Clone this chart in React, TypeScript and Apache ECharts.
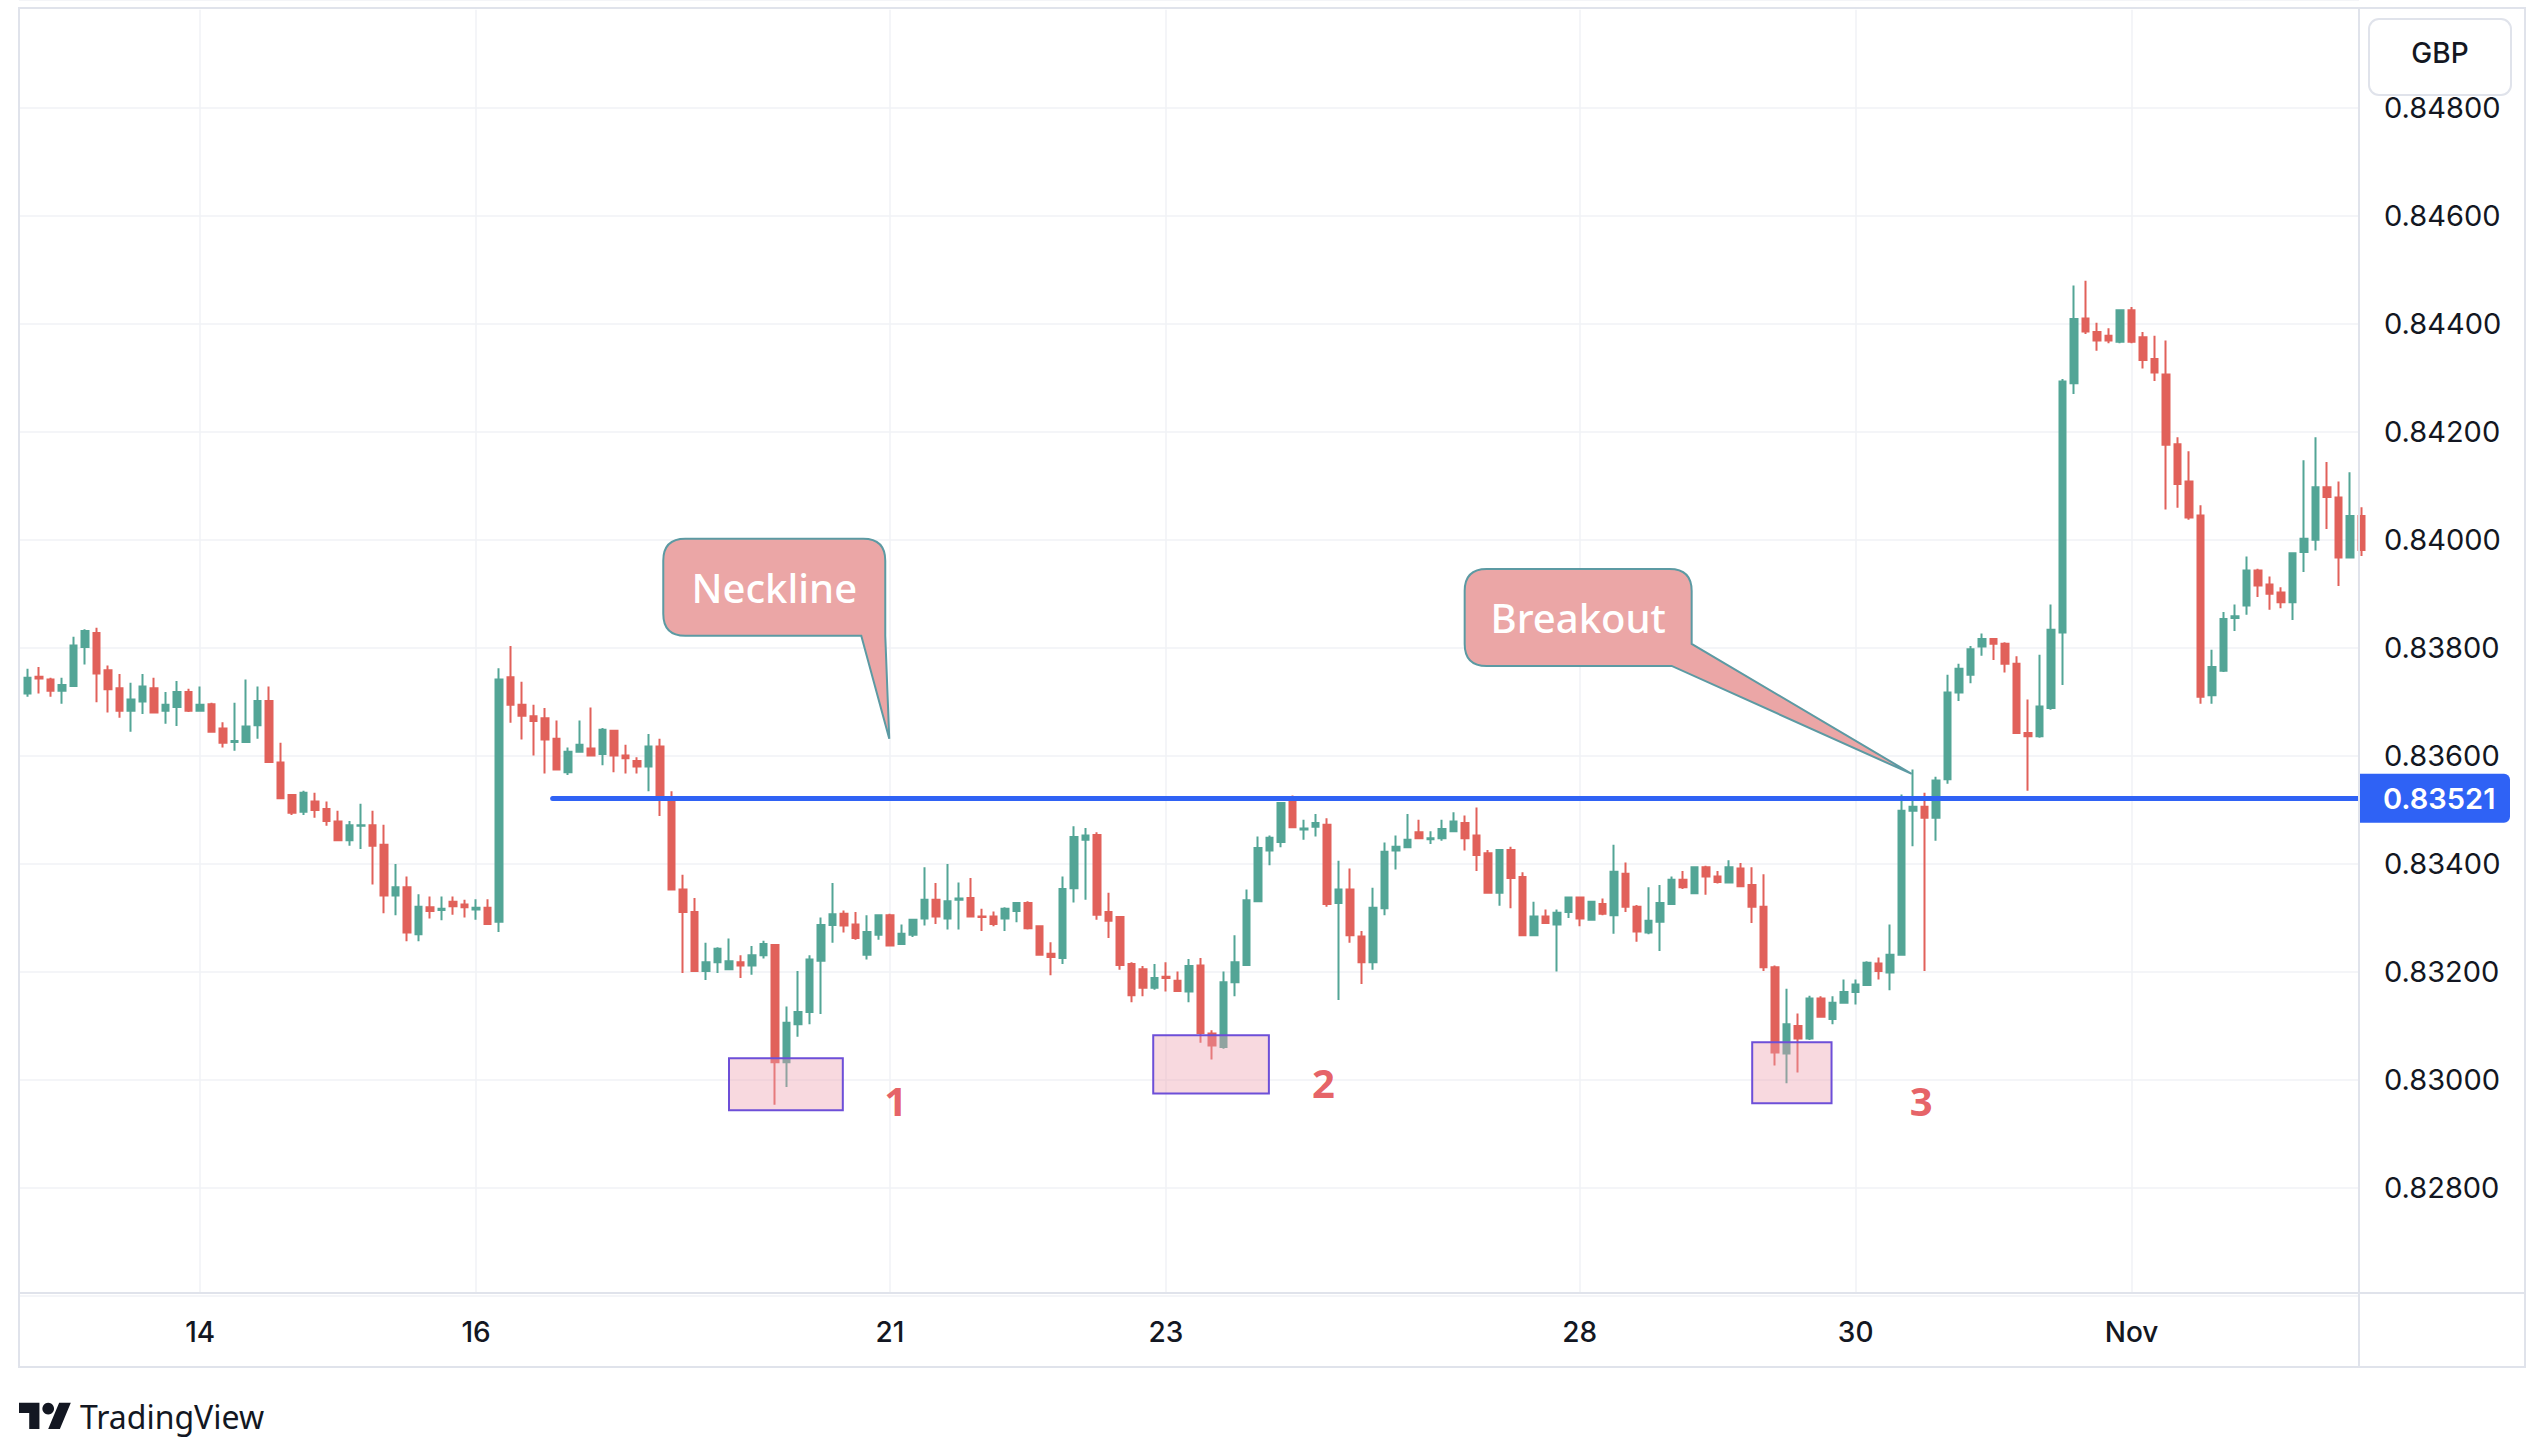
import { useEffect, useRef } from 'react';
import * as echarts from 'echarts';

const W = 2534;
const H = 1444;

// ---- Data: 2-hour EUR/GBP candles, [open, close, low, high] ----
const oct11 = [
  [0.83715, 0.83744, 0.83709, 0.83761], [0.83746, 0.83743, 0.83715, 0.83764], [0.83741, 0.8372, 0.83709, 0.83744],
  [0.8372, 0.83731, 0.83696, 0.83744], [0.83729, 0.83804, 0.83729, 0.8382], [0.83801, 0.83831, 0.83769, 0.83834],
  [0.83827, 0.83752, 0.83699, 0.83837], [0.83758, 0.83723, 0.8368, 0.83767], [0.83725, 0.83683, 0.8367, 0.83751],
  [0.83683, 0.83704, 0.83644, 0.83735], [0.837, 0.83728, 0.83677, 0.83751], [0.83725, 0.8368, 0.8368, 0.83744],
  [0.83683, 0.83694, 0.83659, 0.83718], [0.8369, 0.83718, 0.83655, 0.83738], [0.83718, 0.83683, 0.83681, 0.83724],
];
const oct14 = [
  [0.83683, 0.83694, 0.83683, 0.83728], [0.83695, 0.83644, 0.83644, 0.83698], [0.8365, 0.83624, 0.83615, 0.83662],
  [0.83625, 0.83627, 0.83609, 0.83698], [0.83625, 0.83654, 0.83625, 0.83741], [0.83656, 0.83701, 0.83631, 0.83728],
  [0.83701, 0.83588, 0.83588, 0.83728], [0.83587, 0.83521, 0.83519, 0.83624], [0.83527, 0.83494, 0.8349, 0.83527],
  [0.83496, 0.83531, 0.8349, 0.83535], [0.83515, 0.83499, 0.83485, 0.83531], [0.83501, 0.83479, 0.8347, 0.83515],
  [0.83478, 0.83443, 0.83443, 0.83498], [0.83443, 0.83471, 0.83433, 0.83479], [0.8347, 0.83471, 0.83427, 0.83511],
  [0.83471, 0.83433, 0.83361, 0.83498], [0.83435, 0.83341, 0.83308, 0.83472], [0.83341, 0.83356, 0.83304, 0.83399],
  [0.83356, 0.83272, 0.83256, 0.83376], [0.83269, 0.8332, 0.83256, 0.83343], [0.83319, 0.83312, 0.83298, 0.83339],
  [0.83314, 0.83316, 0.83295, 0.83339], [0.83329, 0.83321, 0.83305, 0.83339], [0.83324, 0.83319, 0.833, 0.83333],
];
const oct16 = [
  [0.83315, 0.83318, 0.83296, 0.83334], [0.83318, 0.83288, 0.83288, 0.83334], [0.83292, 0.83741, 0.83273, 0.83762],
  [0.83745, 0.83694, 0.83661, 0.83803], [0.83694, 0.83674, 0.8363, 0.83737], [0.83673, 0.83664, 0.836, 0.83694],
  [0.83669, 0.8363, 0.83567, 0.83688], [0.83631, 0.83574, 0.83574, 0.83665], [0.83569, 0.83607, 0.83564, 0.83615],
  [0.83607, 0.8362, 0.83607, 0.83665], [0.83613, 0.836, 0.836, 0.83689], [0.83603, 0.83648, 0.83582, 0.83651],
  [0.83646, 0.836, 0.83569, 0.83646], [0.836, 0.83595, 0.83567, 0.8362], [0.8359, 0.8358, 0.83567, 0.83597],
  [0.8358, 0.83617, 0.83534, 0.8364], [0.83617, 0.83524, 0.83488, 0.83631], [0.83522, 0.83352, 0.83352, 0.83534],
  [0.83352, 0.8331, 0.83197, 0.83379], [0.8331, 0.83201, 0.83201, 0.83336], [0.83201, 0.83217, 0.83184, 0.83253],
  [0.83217, 0.83242, 0.83197, 0.83245], [0.83204, 0.83219, 0.83204, 0.83261], [0.83217, 0.83211, 0.83188, 0.8323],
  [0.83211, 0.8323, 0.83194, 0.83247], [0.8323, 0.83251, 0.83224, 0.83257], [0.83249, 0.83032, 0.82953, 0.83251],
  [0.83032, 0.83105, 0.82986, 0.83135], [0.83102, 0.83125, 0.83079, 0.83201], [0.83125, 0.83222, 0.83102, 0.8323],
  [0.8322, 0.83286, 0.83121, 0.833], [0.83286, 0.83306, 0.83253, 0.83364], [0.83307, 0.83285, 0.83272, 0.83313],
  [0.83287, 0.83262, 0.83259, 0.8331], [0.83231, 0.83273, 0.83222, 0.83304], [0.83268, 0.83304, 0.83259, 0.83304],
];
const oct21 = [
  [0.83304, 0.83248, 0.83248, 0.83307], [0.83251, 0.8327, 0.83249, 0.83287], [0.83268, 0.83296, 0.83264, 0.83296],
  [0.83298, 0.83333, 0.83285, 0.83393], [0.83333, 0.83302, 0.83288, 0.83364], [0.83298, 0.8333, 0.83278, 0.83399],
  [0.83333, 0.83335, 0.83278, 0.83365], [0.83336, 0.83302, 0.83302, 0.83373], [0.83302, 0.83301, 0.83275, 0.83316],
  [0.83302, 0.83288, 0.83284, 0.83311], [0.83298, 0.83316, 0.83275, 0.83319], [0.83312, 0.83327, 0.83291, 0.83327],
  [0.83327, 0.8328, 0.83278, 0.8333], [0.83284, 0.83231, 0.83231, 0.83284], [0.83233, 0.83227, 0.83193, 0.83254],
  [0.83225, 0.83353, 0.83214, 0.83376], [0.83354, 0.83449, 0.83328, 0.83469], [0.83444, 0.83452, 0.83333, 0.83466],
  [0.83453, 0.83305, 0.83296, 0.83458], [0.8331, 0.83294, 0.83262, 0.83346], [0.83301, 0.83212, 0.83203, 0.83301],
  [0.83214, 0.83156, 0.83143, 0.83217], [0.83204, 0.8317, 0.83154, 0.8321], [0.8317, 0.83188, 0.83166, 0.83214],
];
const oct23 = [
  [0.8319, 0.83188, 0.83163, 0.83217], [0.83183, 0.83164, 0.83164, 0.832], [0.83163, 0.8321, 0.83143, 0.83223],
  [0.83211, 0.83086, 0.83068, 0.83225], [0.83085, 0.83063, 0.83037, 0.83091], [0.8306, 0.8318, 0.83057, 0.832],
  [0.8318, 0.83217, 0.83154, 0.83267], [0.83212, 0.83332, 0.83211, 0.83352], [0.8333, 0.83429, 0.8333, 0.8345],
  [0.83424, 0.83448, 0.83397, 0.83452], [0.8344, 0.83512, 0.8343, 0.83512], [0.83515, 0.83467, 0.83467, 0.83526],
  [0.83463, 0.83465, 0.83444, 0.83481], [0.83468, 0.83475, 0.8345, 0.83492], [0.83472, 0.83325, 0.8332, 0.83484],
  [0.83327, 0.83352, 0.83147, 0.83405], [0.83352, 0.83267, 0.83253, 0.83391], [0.83265, 0.83217, 0.83177, 0.83275],
  [0.83217, 0.83318, 0.83203, 0.83355], [0.83317, 0.83422, 0.83304, 0.83439], [0.83424, 0.83431, 0.83389, 0.83452],
  [0.8343, 0.83444, 0.8343, 0.83492], [0.83458, 0.83447, 0.83447, 0.83481], [0.83445, 0.83447, 0.83436, 0.8346],
  [0.83447, 0.83464, 0.83442, 0.83481], [0.8346, 0.83478, 0.8346, 0.83495], [0.83475, 0.83447, 0.83424, 0.83489],
  [0.83452, 0.83416, 0.83386, 0.83504], [0.83419, 0.83346, 0.83344, 0.83425], [0.83346, 0.83425, 0.83322, 0.83425],
  [0.83425, 0.83373, 0.83317, 0.83431], [0.83375, 0.83267, 0.83267, 0.83384], [0.83267, 0.83302, 0.83267, 0.83329],
  [0.83302, 0.8329, 0.8329, 0.83315], [0.83287, 0.83309, 0.832, 0.83315], [0.8331, 0.83337, 0.83299, 0.83338],
];
const oct28 = [
  [0.83337, 0.83298, 0.83284, 0.83338], [0.83296, 0.83329, 0.83295, 0.8333], [0.83325, 0.83307, 0.83304, 0.83335],
  [0.83304, 0.83385, 0.8327, 0.83435], [0.83381, 0.8332, 0.8331, 0.83402], [0.8332, 0.83274, 0.83255, 0.83323],
  [0.83272, 0.83294, 0.83269, 0.83356], [0.83292, 0.83327, 0.83238, 0.8336], [0.83325, 0.8337, 0.83325, 0.83376],
  [0.8337, 0.83356, 0.83353, 0.83386], [0.83345, 0.83393, 0.83345, 0.83393], [0.83393, 0.83376, 0.83342, 0.83396],
  [0.83376, 0.83366, 0.83363, 0.83386], [0.83365, 0.83393, 0.83365, 0.83406], [0.83391, 0.83358, 0.83358, 0.83401],
  [0.8336, 0.8332, 0.8329, 0.83393], [0.8332, 0.83208, 0.83201, 0.8338], [0.83208, 0.8305, 0.83026, 0.83211],
  [0.83048, 0.83102, 0.82993, 0.83168], [0.83099, 0.83076, 0.83013, 0.83122], [0.83076, 0.8315, 0.83073, 0.83155],
  [0.8315, 0.83116, 0.83116, 0.83154], [0.83112, 0.83142, 0.83102, 0.83154], [0.83142, 0.83162, 0.83142, 0.83185],
];
const oct30 = [
  [0.83162, 0.83176, 0.83139, 0.83185], [0.83175, 0.83216, 0.83175, 0.83219], [0.83215, 0.83201, 0.83185, 0.83226],
  [0.83198, 0.83231, 0.83165, 0.83287], [0.83231, 0.83498, 0.83231, 0.83528], [0.83498, 0.83505, 0.83432, 0.83574],
  [0.83505, 0.83485, 0.83201, 0.83531], [0.83485, 0.83554, 0.83442, 0.83561], [0.83556, 0.83717, 0.83548, 0.8375],
  [0.83717, 0.83761, 0.83701, 0.8377], [0.8375, 0.83797, 0.83734, 0.83803], [0.83802, 0.83816, 0.83785, 0.83826],
  [0.83816, 0.83807, 0.83777, 0.83816], [0.83807, 0.8377, 0.83754, 0.8381], [0.8377, 0.83642, 0.83642, 0.83784],
  [0.83642, 0.83636, 0.83535, 0.83704], [0.83636, 0.83691, 0.83633, 0.83787], [0.83688, 0.83833, 0.83685, 0.8388],
  [0.83828, 0.84293, 0.83731, 0.84298], [0.8429, 0.84409, 0.8427, 0.84471], [0.8441, 0.84386, 0.84381, 0.8448],
  [0.84385, 0.84369, 0.8435, 0.84402], [0.84378, 0.84369, 0.84364, 0.84392], [0.84367, 0.84425, 0.84364, 0.84427],
];
const nov1 = [
  [0.84425, 0.84367, 0.84364, 0.84431], [0.84375, 0.84333, 0.84317, 0.84385], [0.84335, 0.8431, 0.84294, 0.84378],
  [0.84306, 0.84176, 0.84056, 0.84369], [0.84177, 0.84103, 0.84059, 0.8419], [0.84108, 0.84041, 0.84037, 0.84164],
  [0.84045, 0.83709, 0.83696, 0.84064], [0.83712, 0.83764, 0.83696, 0.83796], [0.83757, 0.83853, 0.83755, 0.83866],
  [0.83855, 0.83858, 0.83831, 0.8388], [0.83878, 0.83943, 0.83861, 0.83969], [0.83943, 0.83915, 0.83894, 0.83946],
  [0.83917, 0.839, 0.8387, 0.83932], [0.83902, 0.83884, 0.83873, 0.83912], [0.83884, 0.83975, 0.83851, 0.83975],
  [0.83977, 0.84002, 0.8394, 0.84147], [0.84, 0.84097, 0.8398, 0.8419], [0.84097, 0.84079, 0.8402, 0.84144],
  [0.84078, 0.83967, 0.83914, 0.84108], [0.83967, 0.84044, 0.83967, 0.84125], [0.84044, 0.83981, 0.8397, 0.8406],
];

// Time axis ticks: bar index of the first bar of each labelled day
const dayTickIndex = [15, 39, 75, 99, 135, 159, 183];
const dayTickLabels = ['14', '16', '21', '23', '28', '30', 'Nov'];

// Price axis
const priceMin = 0.826;
const priceMax = 0.85;
const priceStep = 0.002;
const visibleLow = 0.82604;
const visibleHigh = 0.84982;
const barIndexMin = -0.757;
const barIndexMax = 202.78;

// Neckline
const necklinePrice = 0.83521;
const necklineStartIndex = 45.66;

// Bottoms (index range, price range) and their numbers
const bottomNames = ['1', '2', '3'];
const bottomIndexFrom = [61.0, 97.9, 150.0];
const bottomIndexTo = [70.9, 107.96, 156.9];
const bottomPriceLow = [0.82943, 0.82974, 0.82956];
const bottomPriceHigh = [0.83039, 0.83082, 0.83069];
const bottomLabelIndex = [75.5, 112.7, 164.7];
const bottomLabelPrice = [0.82961, 0.82995, 0.82961];

// Callouts: text and the data point their tail points at
const calloutTexts = ['Neckline', 'Breakout'];
const calloutTipIndex = [74.94, 163.87];
const calloutTipPrice = [0.83631, 0.83566];

// ---- Styles ----
const UP = '#53A596';
const DOWN = '#E1615A';
const GRID_COLOR = '#F0F2F6';
const BORDER = '#E0E3EB';
const TEXT = '#131722';
const BLUE = '#2F62F5';
const AXIS_FONT = 'Inter, Roboto, sans-serif';

const calloutGeom = [
  { left: -226, right: -4, top: -200, bottom: -103, r: 22, kind: 'bottom', baseX: -28, sideY: 0 },
  { left: -447, right: -220, top: -205, bottom: -108, r: 22, kind: 'side', baseX: -240, sideY: -130 },
];

function calloutPath(tx: number, ty: number, g: any): string {
  const L = tx + g.left, R = tx + g.right, T = ty + g.top, B = ty + g.bottom, r = g.r;
  let d = `M${L + r} ${T} L${R - r} ${T} Q${R} ${T} ${R} ${T + r} `;
  if (g.kind === 'bottom') {
    d += `L${R} ${B} L${tx} ${ty} L${tx + g.baseX} ${B} `;
  } else {
    d += `L${R} ${ty + g.sideY} L${tx} ${ty} L${tx + g.baseX} ${B} `;
  }
  d += `L${L + r} ${B} Q${L} ${B} ${L} ${B - r} L${L} ${T + r} Q${L} ${T} ${L + r} ${T} Z`;
  return d;
}

export default function App() {
  const ref = useRef<HTMLDivElement>(null);

  useEffect(() => {
    const el = ref.current;
    if (!el) return;
    const chart = echarts.init(el, null, { renderer: 'svg', width: W, height: H });

    const all = [...oct11, ...oct14, ...oct16, ...oct21, ...oct23, ...oct28, ...oct30, ...nov1];
    const candleData = all.map((c, i) => [i, c[0], c[1], c[2], c[3]]);
    const tickLabelOf = (v: number) => {
      const k = dayTickIndex.indexOf(Math.round(v));
      return k >= 0 ? dayTickLabels[k] : '';
    };

    const gridTop = -1.9;
    const gridHeight = 1297.2;

    chart.setOption({
      animation: false,
      backgroundColor: '#ffffff',
      grid: { left: 19, top: gridTop, width: 2340, height: gridHeight, containLabel: false },
      xAxis: {
        type: 'value',
        min: barIndexMin,
        max: barIndexMax,
        axisLine: { show: false },
        axisTick: { show: false },
        splitLine: { show: false },
        axisLabel: {
          customValues: dayTickIndex,
          formatter: (v: number) => tickLabelOf(v),
          color: TEXT,
          fontSize: 28,
          fontWeight: 500,
          fontFamily: AXIS_FONT,
          margin: 23,
        },
      },
      yAxis: {
        type: 'value',
        position: 'right',
        min: priceMin,
        max: priceMax,
        interval: priceStep,
        axisLine: { show: false },
        axisTick: { show: false },
        splitLine: { show: true, lineStyle: { color: GRID_COLOR, width: 1.5 } },
        axisLabel: {
          formatter: (v: number) => v.toFixed(5),
          showMinLabel: false,
          showMaxLabel: false,
          color: TEXT,
          fontSize: 29,
          fontFamily: AXIS_FONT,
          margin: 25,
        },
      },
      series: [
        {
          type: 'line',
          data: [],
          z: 1,
          silent: true,
          markLine: {
            silent: true,
            z: 1,
            symbol: ['none', 'none'],
            label: { show: false },
            emphasis: { disabled: true },
            lineStyle: { color: GRID_COLOR, width: 1.5, type: 'solid' },
            data: dayTickIndex.map((i) => [{ coord: [i, visibleLow] }, { coord: [i, visibleHigh] }]),
          },
        },
        {
          type: 'candlestick',
          data: candleData,
          encode: { x: 0, y: [1, 2, 3, 4] },
          barWidth: 7,
          clip: true,
          z: 2,
          emphasis: { disabled: true },
          itemStyle: { color: UP, color0: DOWN, borderColor: UP, borderColor0: DOWN, borderWidth: 2 },
          markArea: {
            silent: true,
            z: 3,
            itemStyle: { color: 'rgba(238,160,175,0.4)', borderColor: '#6D4FD8', borderWidth: 2 },
            label: { show: false },
            emphasis: { disabled: true },
            data: bottomNames.map((_, k) => [
              { coord: [bottomIndexFrom[k], bottomPriceHigh[k]] },
              { coord: [bottomIndexTo[k], bottomPriceLow[k]] },
            ]),
          },
          markLine: {
            silent: true,
            symbol: ['none', 'none'],
            label: { show: false },
            emphasis: { disabled: true },
            lineStyle: { color: BLUE, width: 5, type: 'solid', cap: 'round' },
            data: [[{ coord: [necklineStartIndex, necklinePrice] }, { coord: [barIndexMax, necklinePrice] }]],
          },
        },
        {
          type: 'scatter',
          silent: true,
          z: 10,
          symbolSize: 1,
          itemStyle: { color: 'rgba(0,0,0,0)' },
          label: {
            show: true,
            position: 'inside',
            formatter: '{b}',
            fontSize: 40,
            fontWeight: 'bold',
            color: '#E0393E',
            fontFamily: '"Noto Sans", sans-serif',
          },
          data: bottomNames.map((n, k) => ({ name: n, value: [bottomLabelIndex[k], bottomLabelPrice[k]] })),
        },
      ],
    });

    const toPx = (i: number, p: number) => chart.convertToPixel({ gridIndex: 0 }, [i, p]) as number[];
    const elements: any[] = [];

    // Callouts
    calloutTexts.forEach((txt, k) => {
      const [tx, ty] = toPx(calloutTipIndex[k], calloutTipPrice[k]);
      const g = calloutGeom[k];
      const name = 'callout' + k;
      echarts.graphic.registerShape(name, echarts.graphic.extendPath(calloutPath(tx, ty, g), {}));
      elements.push({
        type: name,
        z: 100,
        silent: true,
        style: { fill: '#EBA6A6', stroke: '#5C9AA3', lineWidth: 2 },
      });
      elements.push({
        type: 'text',
        z: 101,
        silent: true,
        x: tx + (g.left + g.right) / 2,
        y: ty + (g.top + g.bottom) / 2,
        style: {
          text: txt,
          fill: '#ffffff',
          fontSize: 40,
          fontWeight: 500,
          fontFamily: '"Noto Sans", sans-serif',
          align: 'center',
          verticalAlign: 'middle',
        },
      });
    });

    // Frame lines
    elements.push({
      type: 'rect', z: 50, silent: true,
      shape: { x: 19, y: 8, width: 2506, height: 1359 },
      style: { fill: 'none', stroke: BORDER, lineWidth: 2 },
    });
    elements.push({
      type: 'line', z: 50, silent: true,
      shape: { x1: 2359, y1: 8, x2: 2359, y2: 1367 },
      style: { stroke: BORDER, lineWidth: 2 },
    });
    elements.push({
      type: 'line', z: 50, silent: true,
      shape: { x1: 19, y1: 1293, x2: 2525, y2: 1293 },
      style: { stroke: BORDER, lineWidth: 2 },
    });

    // Currency box (overlaps the top price label a little, as in the original)
    elements.push({
      type: 'rect', z: 60, silent: true,
      shape: { x: 2369, y: 19, width: 142, height: 76, r: 10 },
      style: { fill: '#ffffff', stroke: BORDER, lineWidth: 2 },
    });
    elements.push({
      type: 'text', z: 61, silent: true, x: 2440, y: 53,
      style: { text: 'GBP', fill: TEXT, fontSize: 28, fontWeight: 500, fontFamily: AXIS_FONT, align: 'center', verticalAlign: 'middle' },
    });

    // Neckline price tag
    const neckY = toPx(0, necklinePrice)[1];
    elements.push({
      type: 'rect', z: 60, silent: true,
      shape: { x: 2360, y: neckY - 24.5, width: 150, height: 49, r: [0, 6, 6, 0] },
      style: { fill: BLUE },
    });
    elements.push({
      type: 'text', z: 61, silent: true, x: 2383, y: neckY,
      style: { text: necklinePrice.toFixed(5), fill: '#ffffff', fontSize: 29, fontWeight: 600, fontFamily: AXIS_FONT, align: 'left', verticalAlign: 'middle' },
    });

    // TradingView logo
    echarts.graphic.registerShape('tvLogoMark', echarts.graphic.extendPath('M14 22H7V11H0V4h14v18zM28 22h-8l7.5-18h8L28 22z', {}));
    elements.push({ type: 'tvLogoMark', z: 60, silent: true, x: 19, y: 1397, scaleX: 1.46, scaleY: 1.46, style: { fill: TEXT } });
    elements.push({ type: 'circle', z: 60, silent: true, shape: { cx: 19 + 20 * 1.46, cy: 1397 + 8 * 1.46, r: 4 * 1.46 }, style: { fill: TEXT } });
    elements.push({
      type: 'text', z: 60, silent: true, x: 80, y: 1416,
      style: { text: 'TradingView', fill: TEXT, fontSize: 32, fontFamily: '"Noto Sans", sans-serif', align: 'left', verticalAlign: 'middle' },
    });

    chart.setOption({ graphic: elements });

    return () => {
      chart.dispose();
    };
  }, []);

  return (
    <div
      ref={ref}
      style={{ position: 'fixed', left: 0, top: 0, width: W, height: H, background: '#ffffff' }}
    />
  );
}
